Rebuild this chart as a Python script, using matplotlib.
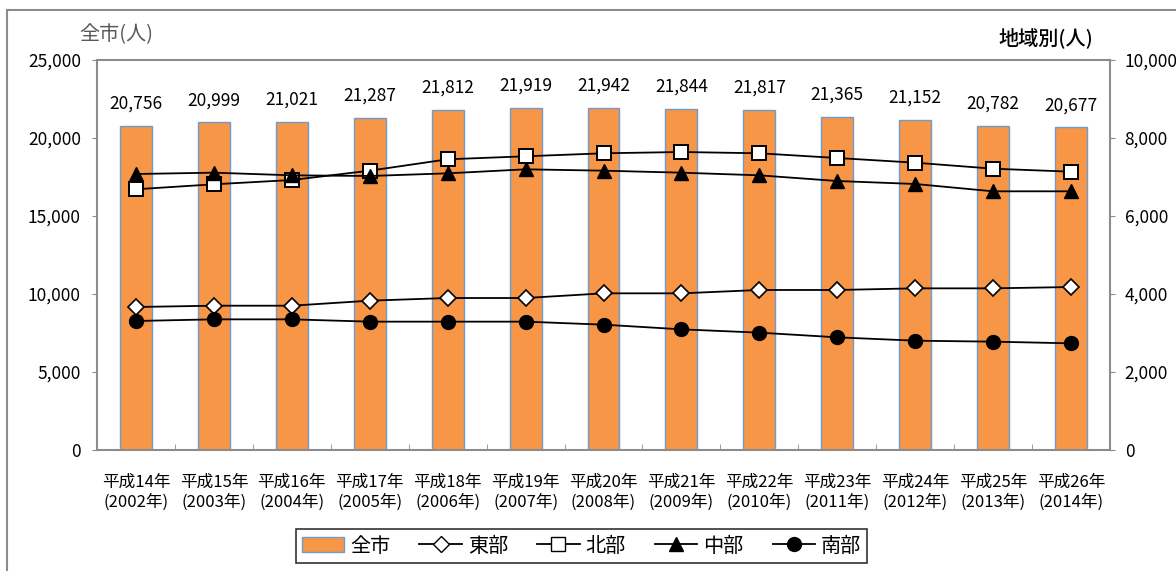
import matplotlib
matplotlib.use("Agg")
import matplotlib.pyplot as plt
from matplotlib.lines import Line2D
from matplotlib.patches import Patch
import numpy as np

plt.rcParams['font.family'] = ['Noto Sans CJK JP', 'DejaVu Sans']

years = ["平成14年\n(2002年)", "平成15年\n(2003年)", "平成16年\n(2004年)", "平成17年\n(2005年)",
         "平成18年\n(2006年)", "平成19年\n(2007年)", "平成20年\n(2008年)", "平成21年\n(2009年)",
         "平成22年\n(2010年)", "平成23年\n(2011年)", "平成24年\n(2012年)", "平成25年\n(2013年)",
         "平成26年\n(2014年)"]

city_total = [20756, 20999, 21021, 21287, 21812, 21919, 21942, 21844, 21817, 21365, 21152, 20782, 20677]
east = [3667, 3700, 3700, 3829, 3897, 3897, 4017, 4017, 4103, 4103, 4145, 4145, 4179]
north = [6685, 6813, 6923, 7162, 7454, 7531, 7608, 7641, 7608, 7487, 7367, 7213, 7136]
central = [7077, 7111, 7043, 7026, 7094, 7197, 7162, 7111, 7043, 6897, 6821, 6633, 6633]
south = [3308, 3350, 3350, 3291, 3291, 3291, 3214, 3094, 3009, 2889, 2803, 2778, 2735]

W, H = 1176, 571
fig = plt.figure(figsize=(W / 100, H / 100), dpi=100)
fig.patch.set_facecolor("white")

# outer frame (open on the right and bottom)
fig.add_artist(Line2D([7 / W, 7 / W], [0, 1 - 10 / H], color="#8c8c8c", lw=1.5, transform=fig.transFigure))
fig.add_artist(Line2D([7 / W, 1], [1 - 10 / H, 1 - 10 / H], color="#8c8c8c", lw=1.5, transform=fig.transFigure))

left, right, top, bottom = 97, 1110, 60, 450
ax = fig.add_axes([left / W, 1 - bottom / H, (right - left) / W, (bottom - top) / H])
x = np.arange(len(years))

ax.bar(x, city_total, width=0.41, color="#F79646", edgecolor="#6F9BD1", linewidth=1.0, zorder=2)
ax.set_xlim(-0.5, len(years) - 0.5)
ax.set_ylim(0, 25000)
ax.set_yticks(np.arange(0, 25001, 5000))
ax.set_yticklabels([f"{v:,}" for v in range(0, 25001, 5000)])

for xi, v in zip(x, city_total):
    ax.annotate(f"{v:,}", (xi, v), xytext=(0, 16), textcoords="offset points",
                ha="center", va="center", fontsize=12.5, color="black")

ax.set_xticks(x)
ax.set_xticklabels(years, fontsize=12, linespacing=1.25)
ax.tick_params(axis="x", length=0, pad=17)
ax.set_xticks(np.arange(-0.5, len(years), 1.0), minor=True)
ax.tick_params(axis="x", which="minor", direction="in", length=4, color="#8c8c8c")
ax.tick_params(axis="y", length=3.6, color="#8c8c8c", labelsize=12.5, pad=8)

for s in ax.spines.values():
    s.set_color("#8c8c8c")
    s.set_linewidth(1.5)

ax2 = ax.twinx()
ax2.set_ylim(0, 10000)
ax2.set_yticks(np.arange(0, 10001, 2000))
ax2.set_yticklabels([f"{v:,}" for v in range(0, 10001, 2000)])
ax2.tick_params(axis="y", length=3.6, color="#8c8c8c", labelsize=12.5, pad=7)
for s in ax2.spines.values():
    s.set_visible(False)

lw = 1.3
ax2.plot(x, east, color="black", lw=lw, marker="D", markersize=8, markerfacecolor="white",
         markeredgecolor="black", markeredgewidth=1.2, zorder=3)
ax2.plot(x, north, color="black", lw=lw, marker="s", markersize=10, markerfacecolor="white",
         markeredgecolor="black", markeredgewidth=1.4, zorder=3)
ax2.plot(x, central, color="black", lw=lw, marker="^", markersize=10, markerfacecolor="black",
         markeredgecolor="black", zorder=4)
ax2.plot(x, south, color="black", lw=lw, marker="o", markersize=10, markerfacecolor="black",
         markeredgecolor="black", zorder=3)

fig.text(116 / W, 1 - 35 / H, "全市(人)", ha="center", va="center", fontsize=14.5, color="#595959")
fig.text(1046 / W, 1 - 38 / H, "地域別(人)", ha="center", va="center", fontsize=14.5,
         color="black", fontweight="medium")

handles = [
    Patch(facecolor="#F79646", edgecolor="#6F9BD1", linewidth=1.0),
    Line2D([], [], color="black", lw=lw, marker="D", markersize=8, markerfacecolor="white", markeredgecolor="black"),
    Line2D([], [], color="black", lw=lw, marker="s", markersize=10, markerfacecolor="white", markeredgecolor="black"),
    Line2D([], [], color="black", lw=lw, marker="^", markersize=10, markerfacecolor="black"),
    Line2D([], [], color="black", lw=lw, marker="o", markersize=10, markerfacecolor="black"),
]
labels = ["全市", "東部", "北部", "中部", "南部"]
leg = fig.legend(handles, labels, loc="center", bbox_to_anchor=(581.5 / W, 1 - 546 / H), ncol=5,
                 fontsize=14.5, frameon=True, fancybox=False, edgecolor="black", handlelength=2.1,
                 handletextpad=0.3, columnspacing=1.45, borderpad=0.3)
leg.get_frame().set_linewidth(1.2)

fig.savefig("out.png", dpi=100)
